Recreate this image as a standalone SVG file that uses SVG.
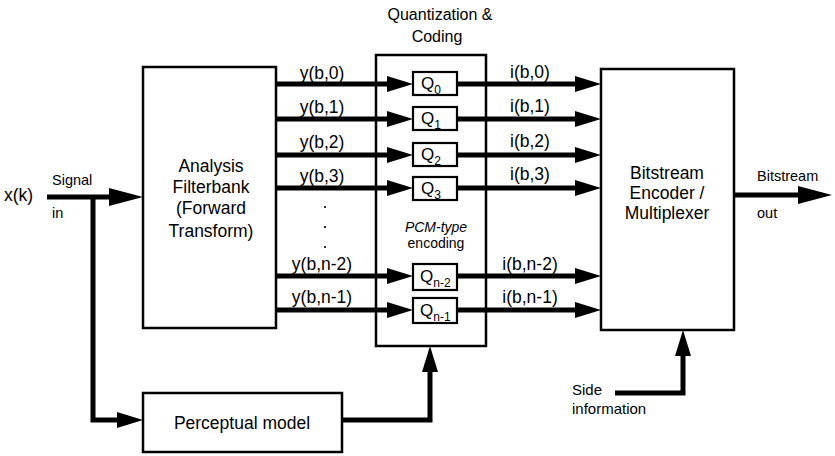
<svg xmlns="http://www.w3.org/2000/svg" width="835" height="456" viewBox="0 0 835 456">
<defs>
<style>
text{font-family:"Liberation Sans",Arial,sans-serif;fill:#000}
.box{fill:#fff;stroke:#000;stroke-width:2.5}
.qb{fill:#fff;stroke:#000;stroke-width:2.2}
.c{fill:none;stroke:#000;stroke-width:5}
.big{font-size:17.5px}
.lbl{font-size:17.5px;text-anchor:middle}
.sm{font-size:14.5px}
.q{font-size:17px}
.sub{font-size:12px}
</style>
<marker id="a" markerUnits="userSpaceOnUse" markerWidth="26" markerHeight="16" refX="16" refY="8" orient="auto"><path d="M0,0 L26,8 L0,16 Z"/></marker>
<marker id="b" markerUnits="userSpaceOnUse" markerWidth="34" markerHeight="18" refX="24" refY="9" orient="auto"><path d="M0,0 L34,9 L0,18 Z"/></marker>
</defs>
<rect width="835" height="456" fill="#fff"/>

<g id="connectors">
<path class="c" d="M47,197 H133" marker-end="url(#b)"/>
<path class="c" d="M93,197 V420 H133" marker-end="url(#a)"/>
<path class="c" d="M276,84 H403" marker-end="url(#a)"/>
<path class="c" d="M276,119 H403" marker-end="url(#a)"/>
<path class="c" d="M276,155 H403" marker-end="url(#a)"/>
<path class="c" d="M276,188 H403" marker-end="url(#a)"/>
<path class="c" d="M276,276 H403" marker-end="url(#a)"/>
<path class="c" d="M276,310 H403" marker-end="url(#a)"/>
<path class="c" d="M457,84 H591" marker-end="url(#a)"/>
<path class="c" d="M457,119 H591" marker-end="url(#a)"/>
<path class="c" d="M457,155 H591" marker-end="url(#a)"/>
<path class="c" d="M457,188 H591" marker-end="url(#a)"/>
<path class="c" d="M457,276 H591" marker-end="url(#a)"/>
<path class="c" d="M457,310 H591" marker-end="url(#a)"/>
<path class="c" d="M734,195 H822" marker-end="url(#b)"/>
<path class="c" d="M342,420 H430 V356" marker-end="url(#a)"/>
<path class="c" d="M615,393 H683 V340" marker-end="url(#a)"/>
<text class="lbl" x="322" y="79">y(b,0)</text>
<text class="lbl" x="322" y="113">y(b,1)</text>
<text class="lbl" x="322" y="148">y(b,2)</text>
<text class="lbl" x="322" y="182">y(b,3)</text>
<text class="lbl" x="322" y="270">y(b,n-2)</text>
<text class="lbl" x="322" y="303">y(b,n-1)</text>
<circle cx="325" cy="207" r="1.1"/>
<circle cx="325" cy="227" r="1.1"/>
<circle cx="325" cy="247" r="1.1"/>
<text class="lbl" x="530" y="78">i(b,0)</text>
<text class="lbl" x="530" y="112">i(b,1)</text>
<text class="lbl" x="530" y="147">i(b,2)</text>
<text class="lbl" x="530" y="180">i(b,3)</text>
<text class="lbl" x="530" y="270">i(b,n-2)</text>
<text class="lbl" x="530" y="303">i(b,n-1)</text>
</g>

<g id="input">
<text class="big" x="4" y="201">x(k)</text>
<text class="sm" x="52" y="185">Signal</text>
<text class="sm" x="52" y="218">in</text>
</g>

<g id="analysis">
<rect class="box" x="143" y="67" width="133" height="261"/>
<text class="big" text-anchor="middle" x="211" y="172">Analysis</text>
<text class="big" text-anchor="middle" x="211" y="193">Filterbank</text>
<text class="big" text-anchor="middle" x="211" y="214">(Forward</text>
<text class="big" text-anchor="middle" x="211" y="237">Transform)</text>
</g>

<g id="quantization">
<text x="440" y="20" font-size="16" text-anchor="middle">Quantization &amp;</text>
<text x="437" y="42" font-size="16" text-anchor="middle">Coding</text>
<rect x="376" y="55" width="110" height="291" fill="none" stroke="#000" stroke-width="2.5"/>
<text x="436" y="232" font-size="14" font-style="italic" text-anchor="middle">PCM-type</text>
<text x="436" y="248" font-size="14" text-anchor="middle">encoding</text>
</g>

<g id="q0"><rect class="qb" x="413" y="72" width="44" height="23"/><text class="q" x="421" y="89">Q<tspan class="sub" dy="5">0</tspan></text></g>
<g id="q1"><rect class="qb" x="413" y="107" width="44" height="23"/><text class="q" x="421" y="124">Q<tspan class="sub" dy="5">1</tspan></text></g>
<g id="q2"><rect class="qb" x="413" y="143" width="44" height="23"/><text class="q" x="421" y="160">Q<tspan class="sub" dy="5">2</tspan></text></g>
<g id="q3"><rect class="qb" x="413" y="177" width="44" height="23"/><text class="q" x="421" y="194">Q<tspan class="sub" dy="5">3</tspan></text></g>
<g id="qn2"><rect class="qb" x="413" y="264" width="44" height="26"/><text class="q" x="420" y="282">Q<tspan class="sub" dy="5">n-2</tspan></text></g>
<g id="qn1"><rect class="qb" x="413" y="298" width="44" height="25"/><text class="q" x="420" y="316">Q<tspan class="sub" dy="5">n-1</tspan></text></g>

<g id="bitstream">
<rect class="box" x="601" y="69" width="133" height="261"/>
<text class="big" text-anchor="middle" x="667" y="179">Bitstream</text>
<text class="big" text-anchor="middle" x="667" y="199">Encoder /</text>
<text class="big" text-anchor="middle" x="667" y="219">Multiplexer</text>
</g>

<g id="output">
<text class="sm" x="757" y="181">Bitstream</text>
<text class="sm" x="757" y="218">out</text>
</g>

<g id="perceptual">
<rect class="box" x="143" y="393" width="199" height="59"/>
<text class="big" text-anchor="middle" x="242" y="429">Perceptual model</text>
</g>

<g id="side">
<text x="572" y="395" font-size="15">Side</text>
<text x="572" y="414" font-size="15">information</text>
</g>
</svg>
